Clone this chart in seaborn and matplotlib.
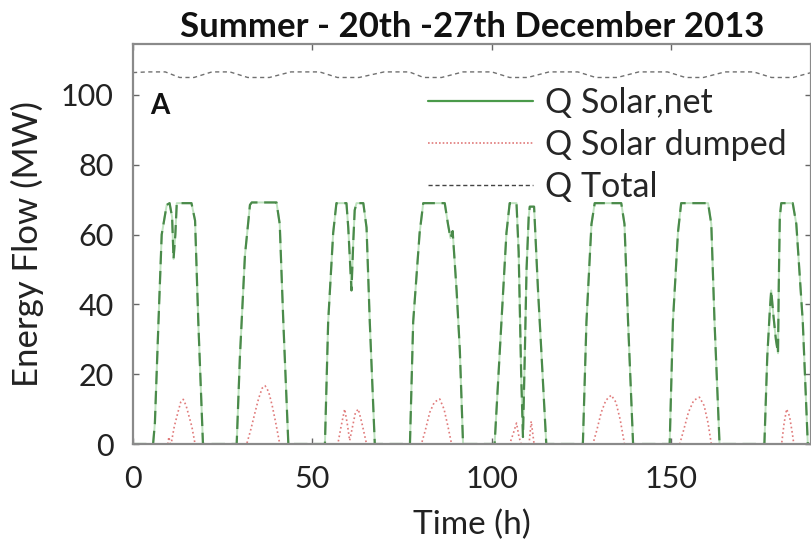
import matplotlib
matplotlib.use("Agg")
import matplotlib.pyplot as plt
from matplotlib.lines import Line2D
import seaborn as sns
import pandas as pd

# ---------------- data ----------------
solar_net_t = [0, 5.6, 6.1, 7.1, 8.0, 9.4, 10.2, 10.9, 11.3, 11.8, 12.2, 16.3, 17.3, 18.2, 19.5,
               28.9, 29.8, 31.2, 32.6, 33.1, 40.0, 40.9, 41.9, 43.3,
               53.5, 54.4, 55.8, 56.7, 59.5, 60.0, 60.9, 61.4, 61.8, 62.3, 64.2, 65.1, 66.0, 67.4,
               77.2, 78.1, 79.9, 80.9, 86.9, 87.8, 88.5, 89.1, 90.2, 91.1, 92.0,
               100.8, 102.7, 104.1, 105.0, 106.9, 107.5, 108.2, 108.7, 109.2, 109.7, 110.3, 110.6, 111.8, 112.9, 113.8, 115.2,
               125.4, 126.4, 127.8, 128.7, 136.1, 137.0, 138.0, 139.4,
               149.6, 150.5, 151.9, 152.8, 160.3, 161.2, 162.1, 163.5,
               176.0, 176.8, 177.5, 177.9, 178.5, 179.2, 179.8, 180.0, 180.3, 180.7, 183.9, 184.9, 186.7, 188.1, 189.0]
solar_net_v = [0, 0, 6, 35, 60, 68.5, 69, 65, 53, 60, 69, 69, 64, 35, 0,
               0, 25, 54, 68.5, 69.2, 69.2, 63, 35, 0,
               0, 35, 60.5, 69, 69, 62, 44, 58, 67, 69, 69, 62, 35, 0,
               0, 35, 60.5, 69, 69, 63, 59, 61, 44, 27, 0,
               0, 35, 60.5, 69, 69, 55, 20, 2, 25, 50, 65, 68, 68, 44, 27, 0,
               0, 35, 63, 69, 69, 63, 35, 0,
               0, 35, 60.5, 69, 69, 63, 35, 0,
               0, 25, 38, 44, 37, 30, 26, 45, 65, 69, 69, 63, 35, 0, 0]

dumped_t = [0, 9.7, 10.0, 10.4, 10.8, 11.5, 12.5, 13.3, 14.0, 14.8, 15.6, 16.4, 17.3,
            31.7, 32.8, 34.0, 35.0, 36.0, 36.8, 37.8, 38.8, 39.8, 40.9,
            57.1, 58.0, 59.0, 59.7, 60.4, 61.2, 62.0, 62.8, 63.8, 65.1,
            80.4, 81.5, 82.7, 84.0, 85.5, 86.7, 87.8, 88.8,
            105.0, 106.0, 106.9, 107.6, 108.2, 110.4, 111.0, 111.8,
            128.2, 129.3, 130.5, 131.8, 133.3, 134.6, 135.8, 137.0,
            152.4, 153.5, 154.8, 156.3, 157.9, 159.2, 160.3, 161.2,
            180.8, 181.5, 182.2, 183.0, 183.8, 184.2, 189.0]
dumped_v = [0, 0, 2, 0, 1, 5, 9, 12, 12.8, 11, 8, 5, 0,
            0, 4, 9, 13, 16, 16.7, 15, 11, 6, 0,
            0, 5, 10, 6, 1, 5, 9, 10, 6, 0,
            0, 4, 9, 12, 12.9, 10, 5, 0,
            0, 3, 6, 2, 0, 0, 6.5, 0,
            0, 4, 9, 12.5, 14, 12, 7, 0,
            0, 4, 9, 12.5, 13.4, 11, 6, 0,
            0, 6, 10, 8, 3, 0, 0]

total_t = [0, 4, 9, 13, 17, 22, 27, 32, 38, 44, 52, 57, 63, 70, 77, 81, 86,
           92, 100, 105, 110, 116, 124, 129, 135, 141, 149, 154, 159, 165, 173, 178, 184, 189]
total_v = [106.4, 106.6, 106.6, 105.0, 105.0, 106.6, 106.6, 105.0, 105.0, 106.6, 106.6, 105.0, 105.0,
           106.6, 106.6, 105.0, 105.0, 106.6, 106.6, 105.0, 105.0, 106.6, 106.6, 105.0, 105.0,
           106.6, 106.6, 105.0, 105.0, 106.6, 106.6, 105.0, 105.0, 106.4]

x_ticks = [0, 50, 100, 150]
y_ticks = [0, 20, 40, 60, 80, 100]
legend_labels = ["Q Solar,net", "Q Solar dumped", "Q Total"]
title_text = "Summer - 20th -27th December 2013"

# ---------------- styling ----------------
sns.set_style("ticks")
plt.rcParams["font.family"] = ["Lato", "DejaVu Sans"]

fig = plt.figure(figsize=(8.12, 5.45), dpi=100)
ax = fig.add_axes([0.1638, 0.1853, 0.835, 0.734])

df_net = pd.DataFrame({"t": solar_net_t, "v": solar_net_v})
df_dump = pd.DataFrame({"t": dumped_t, "v": dumped_v})
df_tot = pd.DataFrame({"t": total_t, "v": total_v})

green_dark = "#4a8a4a"
green_light = "#bfe3bf"
red = "#e07a7a"
grey = "#707070"

sns.lineplot(data=df_tot, x="t", y="v", ax=ax, color=grey, lw=1.0,
             linestyle=(0, (3, 2.5)), estimator=None, sort=False, legend=False)
sns.lineplot(data=df_net, x="t", y="v", ax=ax, color=green_light, lw=1.4,
             estimator=None, sort=False, legend=False)
sns.lineplot(data=df_net, x="t", y="v", ax=ax, color=green_dark, lw=1.6,
             linestyle=(0, (6, 3)), estimator=None, sort=False, legend=False)
sns.lineplot(data=df_dump, x="t", y="v", ax=ax, color=red, lw=1.2,
             linestyle=(0, (1, 1.6)), estimator=None, sort=False, legend=False)

ax.set_xlim(0, 189)
ax.set_ylim(0, 114.6)
ax.set_xticks(x_ticks)
ax.set_yticks(y_ticks)
ax.set_xticklabels([str(v) for v in x_ticks])
ax.set_yticklabels([str(v) for v in y_ticks])

for s in ax.spines.values():
    s.set_color("#8a8a8a")
    s.set_linewidth(1.6)
    s.set_visible(True)
ax.tick_params(direction="in", length=4, width=1, color="#666666",
               top=True, right=True, labelsize=22, labelcolor="#222222")
ax.tick_params(axis="x", pad=15)
ax.tick_params(axis="y", pad=14)

ax.set_xlabel("Time (h)", fontsize=24, color="#222222", labelpad=12)
ax.set_ylabel("Energy Flow (MW)", fontsize=25, color="#222222", labelpad=12)
ax.set_title(title_text, fontsize=25, fontweight="bold", color="#111111", pad=5)

ax.text(0.026, 0.878, "A", transform=ax.transAxes, fontsize=20,
        fontweight="bold", va="top", ha="left", color="#111111")

handles = [
    Line2D([], [], color="#4a9a4a", lw=1.6),
    Line2D([], [], color=red, lw=1.2, linestyle=(0, (1, 1.2))),
    Line2D([], [], color="#444444", lw=1.0, linestyle=(0, (3, 2))),
]
ax.legend(handles, legend_labels, loc="upper left", bbox_to_anchor=(0.435, 0.893),
          frameon=False, fontsize=24.5, handlelength=3.1, handletextpad=0.33,
          labelspacing=0.3, borderpad=0, borderaxespad=0)

fig.savefig("out.png", dpi=100)
